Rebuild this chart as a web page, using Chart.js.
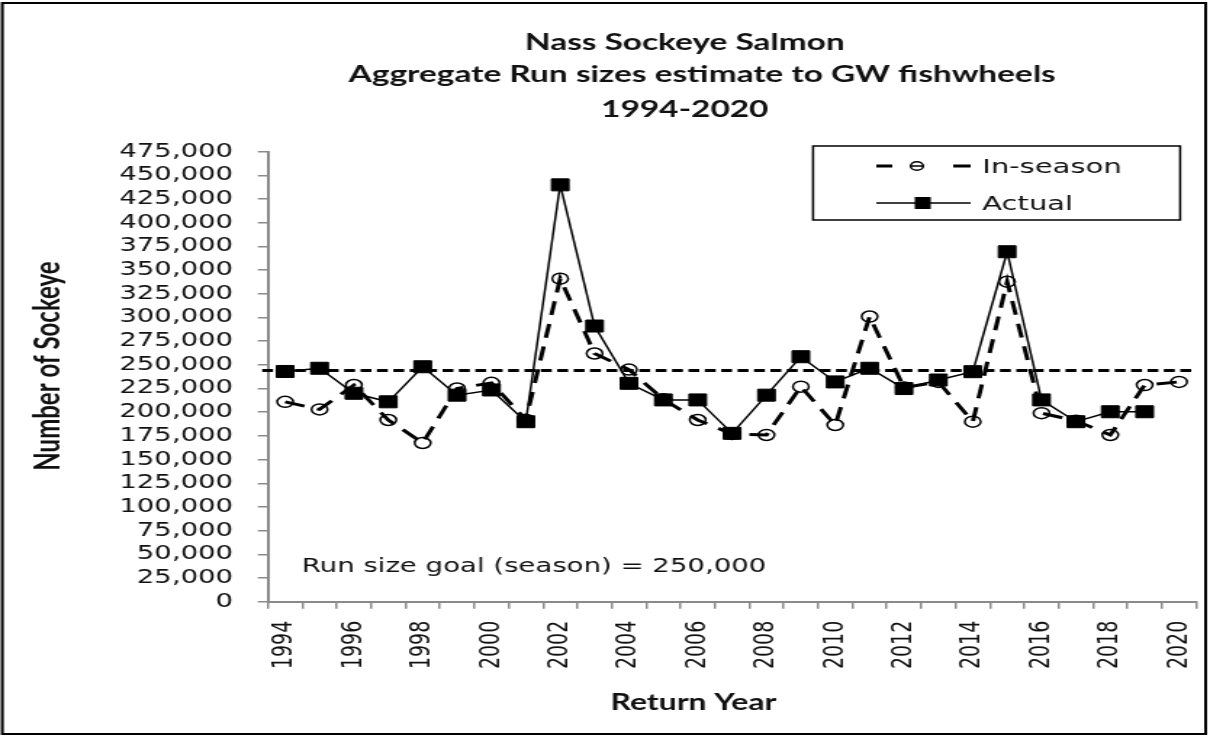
<!DOCTYPE html>
<html><head><meta charset="utf-8">
<script src="https://cdn.jsdelivr.net/npm/chart.js@4.4.1/dist/chart.umd.min.js"></script>
<style>
html,body{margin:0;padding:0;background:#fff;overflow:hidden;}
#wrap{position:absolute;left:0;top:0;width:834px;height:737px;transform:scaleX(1.45084);transform-origin:0 0;}
canvas{display:block;}
</style></head><body>
<div id="wrap"><canvas id="c" width="834" height="737"></canvas></div>
<script>
// ---- data ----
const years = ['1994','1995','1996','1997','1998','1999','2000','2001','2002','2003','2004','2005','2006','2007','2008','2009','2010','2011','2012','2013','2014','2015','2016','2017','2018','2019','2020'];
const inSeason = [211000,203000,228700,191800,167500,225000,231000,192000,341000,262000,245000,213600,191800,177000,176000,227000,186500,301000,226000,232000,190000,337800,199000,191000,176000,228700,232000];
const actual = [243000,246400,220000,211000,248000,218000,223500,190000,440000,291000,230500,213000,213000,177700,218000,258600,232000,246400,225000,234000,242800,369400,213000,190000,200500,200500,null];
const goalValue = 244000;
const yMin = 0, yMax = 475000, yStep = 25000;
const titleLines = ['Nass Sockeye Salmon','Aggregate Run sizes estimate to GW fishwheels','1994-2020'];
const seriesNames = ['In-season','Actual'];
const xTitle = 'Return Year';
const yTitle = 'Number of Sockeye';
const goalNote = 'Run size goal (season) = 250,000';

const TXT = '#111';
const deco = {
  id: 'deco',
  beforeDatasetsDraw(chart) {
    const {ctx, chartArea: a, scales: {y}} = chart;
    const gy = y.getPixelForValue(goalValue);
    ctx.save();
    ctx.strokeStyle = '#000'; ctx.lineWidth = 3; ctx.setLineDash([7.5, 3.8]);
    ctx.beginPath(); ctx.moveTo(a.left - 4, gy); ctx.lineTo(a.right, gy); ctx.stroke();
    ctx.restore();
  },
  afterDraw(chart) {
    const {ctx} = chart;
    const ds = chart.data.datasets;
    ctx.save();
    // frame
    ctx.strokeStyle = '#000'; ctx.lineWidth = 2;
    ctx.strokeRect(1.6, 3, 829.4, 731);
    // title
    ctx.fillStyle = TXT; ctx.textAlign = 'center'; ctx.textBaseline = 'alphabetic';
    ctx.font = 'bold 23px Lato';
    ctx.fillText(titleLines[0], 472, 50);
    ctx.fillText(titleLines[1], 484, 82);
    ctx.fillText(titleLines[2], 472, 117);
    // axis titles
    ctx.font = 'bold 22px Lato';
    ctx.fillText(xTitle, 478, 710);
    ctx.save();
    ctx.translate(41, 366); ctx.rotate(-Math.PI / 2);
    ctx.font = 'bold 24px Lato';
    ctx.fillText(yTitle, 0, 0);
    ctx.restore();
    // goal note
    ctx.textAlign = 'left';
    ctx.font = '19px "DejaVu Sans"';
    ctx.fillText(goalNote, 208, 572);
    // legend box
    ctx.lineWidth = 1.5; ctx.strokeStyle = '#000';
    ctx.strokeRect(560.4, 146, 253, 74);
    const y1 = 166, y2 = 203;
    ctx.lineWidth = ds[0].borderWidth;
    ctx.beginPath();
    ctx.moveTo(604, y1); ctx.lineTo(615, y1);
    ctx.moveTo(657, y1); ctx.lineTo(669, y1);
    ctx.stroke();
    ctx.lineWidth = 1.5;
    ctx.beginPath(); ctx.arc(632, y1, 4.3, 0, Math.PI * 2); ctx.stroke();
    ctx.beginPath(); ctx.moveTo(628, y1); ctx.lineTo(636, y1); ctx.stroke();
    ctx.lineWidth = ds[1].borderWidth;
    ctx.beginPath(); ctx.moveTo(604, y2); ctx.lineTo(669, y2); ctx.stroke();
    ctx.fillStyle = '#000';
    ctx.fillRect(636 - 5.5, y2 - 6, 11, 12);
    ctx.fillStyle = TXT;
    ctx.font = '20px "DejaVu Sans"';
    ctx.fillText(seriesNames[0], 677, 173);
    ctx.fillText(seriesNames[1], 677, 210);
    ctx.restore();
  }
};

new Chart(document.getElementById('c'), {
  type: 'line',
  data: {
    labels: years,
    datasets: [
      {label: seriesNames[0], data: inSeason, borderColor: '#000', borderWidth: 3, borderDash: [14, 9],
       pointStyle: 'circle', pointRadius: 5.5, pointBackgroundColor: 'rgba(255,255,255,0)', pointBorderColor: '#000', pointBorderWidth: 1.5,
       tension: 0, order: 1},
      {label: seriesNames[1], data: actual, borderColor: '#000', borderWidth: 1.5,
       pointStyle: 'rect', pointRadius: 8.5, pointBackgroundColor: '#000', pointBorderColor: '#000', pointBorderWidth: 1,
       tension: 0, order: 0}
    ]
  },
  options: {
    responsive: false, animation: false, devicePixelRatio: 1,
    layout: {padding: {left: 0, right: 4.8, top: 151.7, bottom: 0}},
    plugins: {legend: {display: false}, title: {display: false}, tooltip: {enabled: false}},
    scales: {
      x: {
        type: 'category', offset: true,
        grid: {display: true, offset: true, drawOnChartArea: false, drawTicks: true, tickLength: 7, color: '#8a8a8a', lineWidth: 1.5},
        border: {display: true, color: '#8a8a8a', width: 2},
        ticks: {autoSkip: false, maxRotation: 90, minRotation: 90, padding: 12,
                font: {family: 'DejaVu Sans', size: 19}, color: TXT,
                callback: (v, i) => (i % 2 === 0 ? years[i] : '')},
        afterFit(s) { s.height = 135.3; s.paddingLeft = 0; s.paddingRight = 0; }
      },
      y: {
        min: yMin, max: yMax,
        grid: {display: true, drawOnChartArea: false, drawTicks: true, tickLength: 7, color: '#8a8a8a', lineWidth: 1.5},
        border: {display: true, color: '#8a8a8a', width: 2},
        ticks: {stepSize: yStep, autoSkip: false, padding: 17, font: {family: 'DejaVu Sans', size: 19}, color: TXT,
                callback: (v) => v.toLocaleString('en-US')},
        afterFit(s) { s.width = 184.7; }
      }
    }
  },
  plugins: [deco]
});
</script>
</body></html>
